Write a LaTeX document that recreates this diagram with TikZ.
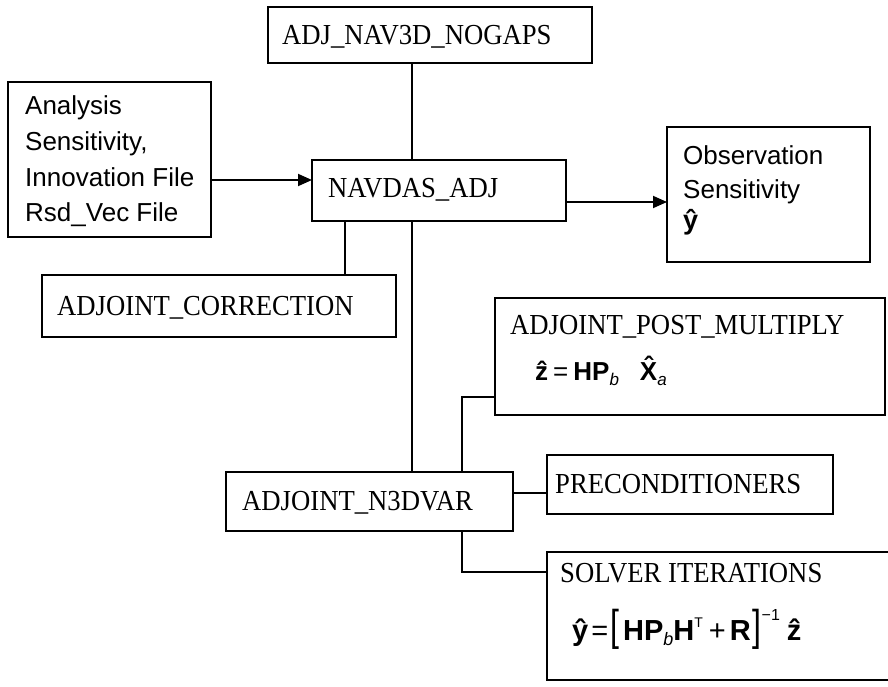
\documentclass[tikz,border=0pt]{standalone}
\usepackage{fontspec}
\setmainfont{Liberation Serif}
\newfontfamily\arial{Liberation Sans}
\newfontfamily\tnr[FakeStretch=0.92]{Liberation Serif}
\usetikzlibrary{arrows.meta}
\newcommand\tnrf{\tnr\fontsize{29}{29}\selectfont}
\newcommand\arialf{\arial\fontsize{26}{26}\selectfont}
\newcommand\hatc[1]{\accent"02C6 #1}
\newcommand\tallbr[1]{\scalebox{1}[1.35]{\fontsize{32}{32}\selectfont\mdseries #1}}
\begin{document}
\begin{tikzpicture}[x=1pt,y=-1pt,
  box/.style={draw, line width=2.2pt, inner sep=0pt, outer sep=0pt},
  ln/.style={line width=1.8pt},
  arr/.style={line width=1.8pt, -{Triangle[length=14pt,width=12pt]}},
  tt/.style={anchor=base west, inner sep=0pt, font=\tnrf},
  atxt/.style={anchor=base west, inner sep=0pt, font=\arialf},
  fml/.style={anchor=base west, inner sep=0pt}]
\useasboundingbox (0,0) rectangle (888,687);

% boxes
\node[box, minimum width=324pt, minimum height=56pt] (nav3d) at (430,35) {};
\node[box, minimum width=203pt, minimum height=155pt] (analysis) at (109.5,159.5) {};
\node[box, minimum width=254pt, minimum height=61pt] (navdas) at (439,190.5) {};
\node[box, minimum width=203pt, minimum height=135pt] (obs) at (768.5,194.5) {};
\node[box, minimum width=354pt, minimum height=62pt] (correction) at (219,306) {};
\node[box, minimum width=390pt, minimum height=117pt] (post) at (690,356.5) {};
\node[box, minimum width=287pt, minimum height=59pt] (n3dvar) at (369.5,501.5) {};
\node[box, minimum width=286pt, minimum height=59pt] (precond) at (690,484.5) {};
\node[box, minimum width=360pt, minimum height=128pt] (solver) at (727,616) {};

% texts
\node[tt] (t-nav3d) at (282,45) {ADJ\_NAV3D\_NOGAPS};
\node[atxt] (t-an1) at (25,115) {Analysis};
\node[atxt] (t-an2) at (25,150.7) {Sensitivity,};
\node[atxt] (t-an3) at (25,186.3) {Innovation File};
\node[atxt] (t-an4) at (25,222) {Rsd\_Vec File};
\node[tt] (t-navdas) at (328,197) {NAVDAS\_ADJ};
\node[atxt] (t-obs1) at (683,165) {Observation};
\node[atxt] (t-obs2) at (683,198) {Sensitivity};
\node[fml] (t-obs3) at (683,229) {\arial\fontsize{27}{27}\selectfont\bfseries\hatc{y}};
\node[tt] (t-corr) at (57,315) {ADJOINT\_CORRECTION};
\node[tt] (t-post) at (510,334) {ADJOINT\_POST\_MULTIPLY};
\node[fml] (f-post) at (535,380)
  {\arial\fontsize{26}{26}\selectfont\bfseries
   \hatc{z}\kern5pt{\mdseries=}\kern5pt HP\raisebox{-5pt}{\fontsize{17}{17}\selectfont\mdseries\itshape b}\kern21pt\hatc{X}\raisebox{-5pt}{\fontsize{17}{17}\selectfont\mdseries\itshape a}};
\node[tt] (t-n3d) at (242,510) {ADJOINT\_N3DVAR};
\node[tt] (t-pre) at (555,493) {PRECONDITIONERS};
\node[tt] (t-sol) at (560,582) {SOLVER ITERATIONS};
\node[fml] (f-sol) at (572,640)
  {\arial\fontsize{29}{29}\selectfont\bfseries
   \hatc{y}\kern3pt{\mdseries=}\kern2pt\tallbr{[}\kern4pt HP\raisebox{-5pt}{\fontsize{18}{18}\selectfont\mdseries\itshape b}H\raisebox{13pt}{\fontsize{14}{14}\selectfont\mdseries T}\kern6pt{\mdseries+}\kern4pt R\kern2pt\tallbr{]}\raisebox{20pt}{\fontsize{16}{16}\selectfont\mdseries\symbol{"2212}1}\kern7pt\hatc{z}};

% helper coordinates
\coordinate (x412) at (412,0);
\coordinate (x345) at (345,0);
\coordinate (x462) at (462,0);
\coordinate (y180) at (0,180);
\coordinate (y202) at (0,202);
\coordinate (y397) at (0,397);
\coordinate (y493) at (0,493);
\coordinate (y572) at (0,572);

% connectors
\draw[ln] (nav3d.south -| x412) -- (navdas.north -| x412);
\draw[arr] (analysis.east |- y180) -- (navdas.west |- y180);
\draw[arr] (navdas.east |- y202) -- (obs.west |- y202);
\draw[ln] (navdas.south -| x345) -- (correction.north -| x345);
\draw[ln] (navdas.south -| x412) -- (n3dvar.north -| x412);
\draw[ln] (n3dvar.north -| x462) |- (post.west |- y397);
\draw[ln] (n3dvar.east |- y493) -- (precond.west |- y493);
\draw[ln] (n3dvar.south -| x462) |- (solver.west |- y572);
\end{tikzpicture}
\end{document}
